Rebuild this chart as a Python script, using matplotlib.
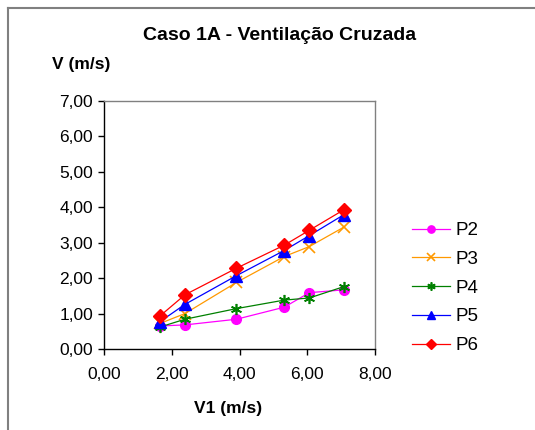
import matplotlib
matplotlib.use("Agg")
import matplotlib.pyplot as plt
from matplotlib.lines import Line2D

plt.rcParams['font.family'] = ['Liberation Sans', 'DejaVu Sans']

x_v1 = [1.65, 2.39, 3.91, 5.32, 6.06, 7.08]
p2 = [0.65, 0.68, 0.84, 1.18, 1.59, 1.67]
p3 = [0.72, 1.00, 1.88, 2.61, 2.89, 3.44]
p4 = [0.62, 0.84, 1.14, 1.38, 1.44, 1.76]
p5 = [0.77, 1.26, 2.07, 2.78, 3.20, 3.79]
p6 = [0.93, 1.53, 2.28, 2.93, 3.35, 3.93]
series_names = ["P2", "P3", "P4", "P5", "P6"]
x_ticks = [0, 2, 4, 6, 8]
y_ticks = [0, 1, 2, 3, 4, 5, 6, 7]

W, H = 535, 430
fig = plt.figure(figsize=(W / 100, H / 100), dpi=100)
ax = fig.add_axes([104 / W, 1 - 349 / H, (375 - 104) / W, (349 - 101) / H])

styles = [
    dict(color='#ff00ff', marker='o', ms=7, mec='#ff00ff', mfc='#ff00ff'),
    dict(color='#ff9900', marker='x', ms=8, mew=1.2),
    dict(color='#008000', marker=(6, 2, 0), ms=8, mew=1.2),
    dict(color='#0000ff', marker='^', ms=8),
    dict(color='#ff0000', marker='D', ms=7),
]
for name, ys, st in zip(series_names, [p2, p3, p4, p5, p6], styles):
    ax.plot(x_v1, ys, lw=0.9, label=name, **st)

ax.set_xlim(0, 8)
ax.set_ylim(0, 7)
ax.set_xticks(x_ticks)
ax.set_yticks(y_ticks)
fmt = lambda v: f"{v:.2f}".replace('.', ',')
ax.set_xticklabels([fmt(v) for v in x_ticks], fontsize=12.5)
ax.set_yticklabels([fmt(v) for v in y_ticks], fontsize=12.5)
ax.tick_params(direction='out', length=4, width=1, pad=4)
ax.tick_params(axis='x', pad=9)
for s in ['left', 'bottom']:
    ax.spines[s].set_color('black')
    ax.spines[s].set_linewidth(1.0)
for s in ['top', 'right']:
    ax.spines[s].set_color('#808080')
    ax.spines[s].set_linewidth(1.0)

fig.text(280 / W, 1 - 35 / H, "Caso 1A - Ventilação Cruzada", ha='center', va='center',
         fontsize=14, fontweight='bold')
fig.text(52 / W, 1 - 65 / H, "V (m/s)", ha='left', va='center', fontsize=12.5, fontweight='bold')
fig.text(228 / W, 1 - 408 / H, "V1 (m/s)", ha='center', va='center', fontsize=12.5, fontweight='bold')

leg = fig.legend(loc='center left', bbox_to_anchor=(412 / W, 1 - 288 / H), frameon=False,
                 fontsize=13.5, handlelength=2.0, labelspacing=0.62, handletextpad=0.3,
                 markerscale=0.75, borderaxespad=0, borderpad=0)

fig.add_artist(Line2D([8 / W, 1], [1 - 8 / H, 1 - 8 / H], color='#808080', lw=1.5))
fig.add_artist(Line2D([8 / W, 8 / W], [0, 1 - 8 / H], color='#808080', lw=1.5))

fig.savefig("out.png", dpi=100)
